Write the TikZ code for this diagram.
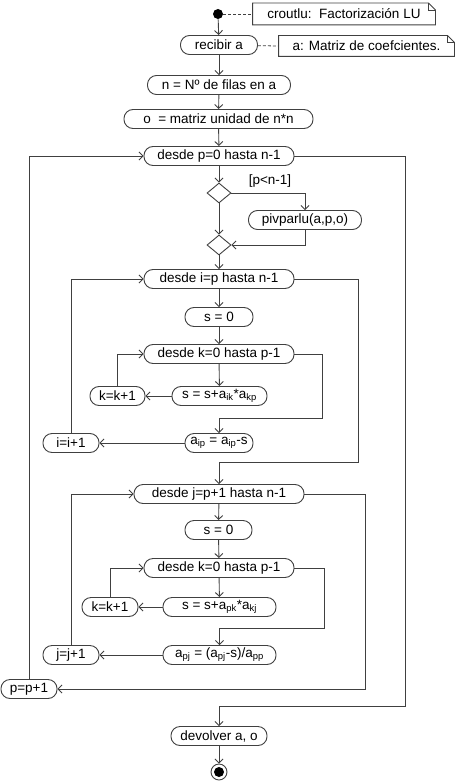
\documentclass[tikz,border=0pt]{standalone}
\usepackage{fontspec}
\setmainfont{Liberation Sans}
\usetikzlibrary{shapes.geometric, arrows.meta, calc}
\def\foldlen{7pt}
\newcommand\notebox[1]{%
  \draw (#1.south west) -- (#1.north west) -- ([xshift=-\foldlen]#1.north east)
    -- ([yshift=-\foldlen]#1.north east) -- (#1.south east) -- cycle;
  \draw ([xshift=-\foldlen]#1.north east) |- ([yshift=-\foldlen]#1.north east);}

\begin{document}
\begin{tikzpicture}[x=1pt, y=-1pt, draw=black!75, line width=0.9pt,
    font=\fontsize{13.5}{15}\selectfont,
    >={Straight Barb[length=4pt,width=8pt]}]
  \tikzstyle{act}=[draw, rounded corners=9pt, minimum height=19pt, inner sep=1pt]
  \tikzstyle{note}=[minimum height=21pt, inner sep=1pt]
  \tikzstyle{branch}=[draw, diamond, inner sep=0pt, minimum width=24pt, minimum height=20pt]
  \tikzstyle{flow}=[->]
  \tikzstyle{link}=[dash pattern=on 3pt off 2pt, line width=0.8pt]
  \useasboundingbox (0,0) rectangle (455,781);

  % start, notes and set up
  \node[circle, fill=black, inner sep=0pt, minimum size=10pt] (start) at (218,14) {};
  \node[note, minimum width=182pt] (nota1) at (344,14) {croutlu:\ \ Factorización LU};
  \notebox{nota1}
  \node[act, minimum width=77pt] (recibir) at (219,45) {recibir a};
  \node[note, minimum width=175pt, minimum height=20pt] (nota2) at (366.5,46) {a: Matriz de coefcientes.};
  \notebox{nota2}
  \node[act, minimum width=143pt] (nfil) at (219,85) {n = Nº de filas en a};
  \node[act, minimum width=189pt] (omat) at (218.5,119) {o\ \ = matriz unidad de n*n};
  \draw[link] (start) -- (nota1.west);
  \draw[link] (recibir) -- (nota2.west);
  \draw[flow] (start) -- (recibir);
  \draw[flow] (recibir) -- (nfil);
  \draw[flow] (nfil) -- (omat);

  % loop over p
  \node[act, minimum width=150pt] (forp) at (219,156) {desde p=0 hasta n-1};
  \node[branch] (dec1) at (219,193) {};
  \node (lblp) at (270,181) {[p<n-1]};
  \node[act, minimum width=113pt] (pivp) at (305,220) {pivparlu(a,p,o)};
  \node[branch] (dec2) at (219,245) {};
  \draw[flow] (omat) -- (forp);
  \draw[flow] (forp) -- (dec1);
  \draw[flow] (dec1.east) -| (pivp.north);
  \draw[flow] (dec1) -- (dec2);
  \draw[flow] (pivp.south) |- (dec2.east);

  % loop over i
  \node[act, minimum width=150pt] (fori) at (219,279) {desde i=p hasta n-1};
  \node[act, minimum width=68pt] (s0a) at (219,317) {s = 0};
  \node[act, minimum width=150pt] (forka) at (219,354) {desde k=0 hasta p-1};
  \node[act, minimum width=95pt] (sumka) at (219.5,396) {s = s+a\textsubscript{ik}*a\textsubscript{kp}};
  \node[act, minimum width=55pt] (kinca) at (117.5,396) {k=k+1};
  \node[act, minimum width=68pt] (aip) at (219,443) {a\textsubscript{ip} = a\textsubscript{ip}-s};
  \node[act, minimum width=56pt] (iinc) at (71,443) {i=i+1};
  \draw[flow] (dec2) -- (fori);
  \draw[flow] (fori) -- (s0a);
  \draw[flow] (s0a) -- (forka);
  \draw[flow] (forka) -- (sumka);
  \draw[flow] (sumka) -- (kinca);
  \draw[flow] (kinca.north) |- (forka.west);
  \draw[flow] (forka.east) -- ++(28,0) |- ($(aip.north)+(0,-15)$) -- (aip.north);
  \draw[flow] (aip) -- (iinc);
  \draw[flow] (iinc.north) |- (fori.west);

  % loop over j
  \node[act, minimum width=170pt] (forj) at (219,494) {desde j=p+1 hasta n-1};
  \node[act, minimum width=67pt] (s0b) at (218.5,530) {s = 0};
  \node[act, minimum width=150pt] (forkb) at (219,568) {desde k=0 hasta p-1};
  \node[act, minimum width=113pt] (sumkb) at (219.5,607) {s = s+a\textsubscript{pk}*a\textsubscript{kj}};
  \node[act, minimum width=56pt] (kincb) at (110,607) {k=k+1};
  \node[act, minimum width=113pt] (apj) at (219.5,655) {a\textsubscript{pj} = (a\textsubscript{pj}-s)/a\textsubscript{pp}};
  \node[act, minimum width=56pt] (jinc) at (71,655) {j=j+1};
  \draw[flow] (fori.east) -- ++(64,0) |- ($(forj.north)+(0,-21.5)$) -- (forj.north);
  \draw[flow] (forj) -- (s0b);
  \draw[flow] (s0b) -- (forkb);
  \draw[flow] (forkb) -- (sumkb);
  \draw[flow] (sumkb) -- (kincb);
  \draw[flow] (kincb.north) |- (forkb.west);
  \draw[flow] (forkb.east) -- ++(30,0) |- ($(apj.north)+(0,-16.5)$) -- (apj.north);
  \draw[flow] (apj) -- (jinc);
  \draw[flow] (jinc.north) |- (forj.west);

  % end of loop over p
  \node[act, minimum width=56pt] (pinc) at (29,689) {p=p+1};
  \node[act, minimum width=96pt] (devolver) at (219,736) {devolver a, o};
  \node[circle, draw, inner sep=0pt, minimum size=16pt,
    path picture={\fill[black] (path picture bounding box.center) circle (5pt);}] (fin) at (219,772) {};
  \draw[flow] (forj.east) -- ++(61,0) |- (pinc.east);
  \draw[flow] (pinc.north) |- (forp.west);
  \draw[flow] (forp.east) -- ++(111,0) |- ($(devolver.north)+(0,-19.5)$) -- (devolver.north);
  \draw[flow] (devolver) -- (fin);
\end{tikzpicture}
\end{document}
